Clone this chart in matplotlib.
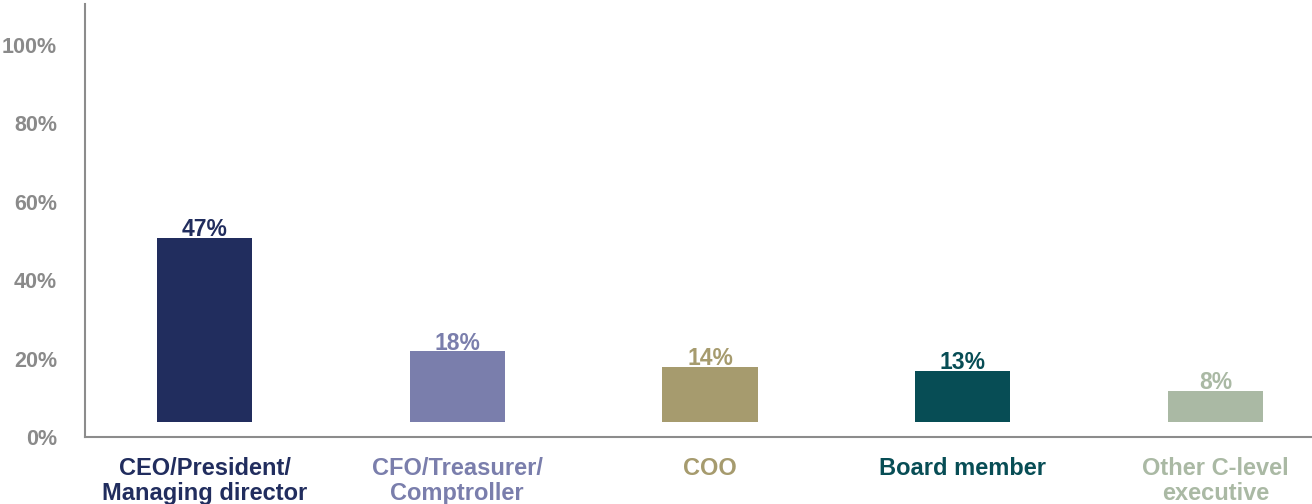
import matplotlib.pyplot as plt

roles = ["CEO/President/\nManaging director", "CFO/Treasurer/\nComptroller", "COO",
         "Board member", "Other C-level\nexecutive"]
shares = [47, 18, 14, 13, 8]
colors = ["#212d5e", "#7a7eac", "#a69b6e", "#074d55", "#aab9a4"]
yticks = [0, 20, 40, 60, 80, 100]

base = 3.8  # bars sit a little above the baseline
grey = "#8a8a8a"
font = "Liberation Sans"

fig = plt.figure(figsize=(13.12, 5.04), dpi=100)
ax = fig.add_axes([0.0648, 0.133, 0.9352, 0.859])

x = list(range(len(roles)))
ax.bar(x, shares, bottom=base, width=0.376, color=colors)

for i in x:
    ax.text(i, base + shares[i] + 0.5, f"{shares[i]}%", ha="center", va="baseline",
            color=colors[i], fontsize=16.5, fontweight="bold", family=font)
    ax.text(i, -5.0, roles[i], ha="center", va="top", color=colors[i],
            fontsize=17, fontweight="bold", family=font, linespacing=1.15)

ax.set_xlim(-0.473, 4.382)
ax.set_ylim(0.8, 110.4)
ax.set_xticks([])
ax.set_yticks(yticks)
ax.set_yticklabels([f"{t}%" for t in yticks], color=grey, fontsize=15.5,
                   fontweight="bold", family=font)
ax.tick_params(axis="y", length=0, pad=20)

for side in ["top", "right"]:
    ax.spines[side].set_visible(False)
for side in ["left", "bottom"]:
    ax.spines[side].set_color("#8c8c8c")
    ax.spines[side].set_linewidth(1.5)

fig.savefig("out.png", dpi=100)
